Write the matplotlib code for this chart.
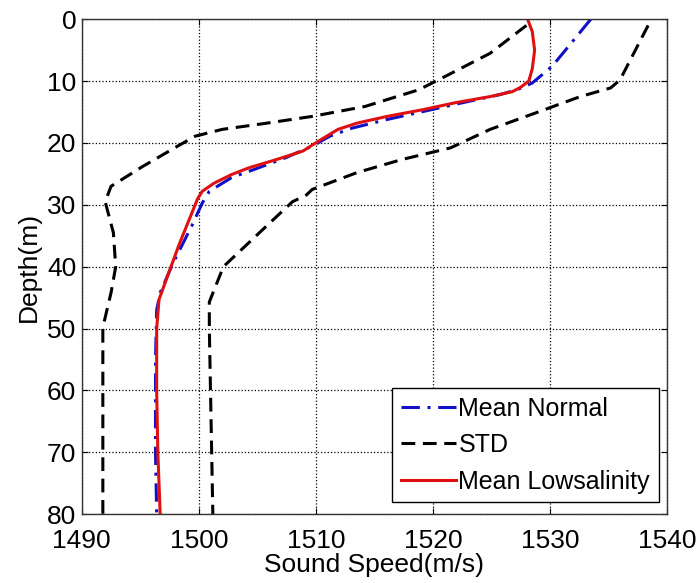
import matplotlib
matplotlib.use('Agg')
import matplotlib.pyplot as plt

plt.rcParams['font.family'] = ['Liberation Sans', 'DejaVu Sans']

# Mean Normal profile (depth m, sound speed m/s)
normal_depth = [0, 7.6, 10.3, 11.4, 12.2, 13.3, 14.9, 16.2, 17.6, 18.9, 20.5, 22.4, 24.3,
                25.6, 27.8, 29.7, 33.4, 39.4, 44.2, 47, 55, 70, 80]
normal_speed = [1533.5, 1530.2, 1528.5, 1527.2, 1525.7, 1523.0, 1519.2, 1516.1, 1513.1, 1511.2,
                1509.7, 1507.4, 1504.7, 1502.8, 1500.9, 1500.3, 1499.4, 1497.8, 1496.7, 1496.4,
                1496.3, 1496.3, 1496.4]

# Mean Lowsalinity profile
low_depth = [0, 2, 5, 8, 10, 11, 11.7, 12.5, 13.5, 14.6, 15.7, 16.8, 17.8, 19.5, 21.3, 22.7,
             24.0, 25.1, 26.5, 27.8, 29.0, 36.5, 45.3, 50, 60, 70, 80]
low_speed = [1528.1, 1528.5, 1528.7, 1528.5, 1528.2, 1527.5, 1526.8, 1524.9, 1521.9, 1519.2,
             1516.1, 1513.5, 1511.9, 1510.4, 1508.9, 1506.6, 1504.3, 1502.8, 1501.3, 1500.3,
             1499.9, 1498.3, 1496.6, 1496.4, 1496.4, 1496.5, 1496.7]

# STD bounds
std_lo_depth = [1, 5.5, 9.2, 11.4, 14.1, 15.7, 16.8, 17.8, 18.9, 20.5, 23.8, 27.0, 29.5, 34.5,
                40.0, 44.2, 49, 50, 80]
std_lo_speed = [1528.0, 1524.9, 1521.1, 1518.8, 1514.2, 1509.7, 1505.8, 1502.0, 1499.7, 1498.2,
                1495.2, 1492.5, 1492.0, 1492.7, 1492.9, 1492.5, 1491.9, 1491.8, 1491.8]
std_hi_depth = [1, 9.8, 11.1, 12.5, 15.2, 17.8, 20.8, 22.7, 24.8, 27.5, 28.4, 29.5, 33.4, 40.0,
                45.7, 50, 80]
std_hi_speed = [1538.4, 1536.0, 1535.2, 1532.6, 1528.7, 1524.9, 1521.5, 1517.3, 1513.5, 1509.7,
                1509.2, 1508.0, 1505.8, 1502.1, 1500.9, 1500.9, 1501.2]

xticks = [1490, 1500, 1510, 1520, 1530, 1540]
yticks = [0, 10, 20, 30, 40, 50, 60, 70, 80]

fig = plt.figure(figsize=(6.99, 5.83), dpi=100)
ax = fig.add_axes([0.117, 0.118, 0.837, 0.849])

ax.plot(normal_speed, normal_depth, color='#1010c8', linestyle='-.', linewidth=2.2,
        dashes=(6, 2.5, 1, 2.5), label='Mean Normal')
ax.plot(std_lo_speed, std_lo_depth, color='black', linewidth=2.2, dashes=(4.5, 2.5), label='STD')
ax.plot(std_hi_speed, std_hi_depth, color='black', linewidth=2.2, dashes=(4.5, 2.5))
ax.plot(low_speed, low_depth, color='#e01010', linewidth=2.2, label='Mean Lowsalinity')

ax.set_xlim(1490, 1540)
ax.set_ylim(80, 0)
ax.set_xticks(xticks)
ax.set_yticks(yticks)
ax.grid(True, color='black', linestyle=':', linewidth=0.9)
ax.tick_params(direction='in', length=4.5, top=True, right=True, labelsize=19, pad=4)
ax.tick_params(axis='x', pad=11)
for s in ax.spines.values():
    s.set_linewidth(1.0)
    s.set_color('#333333')

ax.set_xlabel('Sound Speed(m/s)', fontsize=19, labelpad=0)
ax.set_ylabel('Depth(m)', fontsize=19, labelpad=4)

leg = ax.legend(loc='lower right', bbox_to_anchor=(0.986, 0.024), borderaxespad=0,
                fontsize=18, frameon=True, fancybox=False, handlelength=2.2,
                handletextpad=0.1, borderpad=0.35, labelspacing=0.5)
leg.get_frame().set_edgecolor('black')
leg.get_frame().set_linewidth(1.0)
leg.get_frame().set_alpha(1)

fig.savefig('out.png', dpi=100)
